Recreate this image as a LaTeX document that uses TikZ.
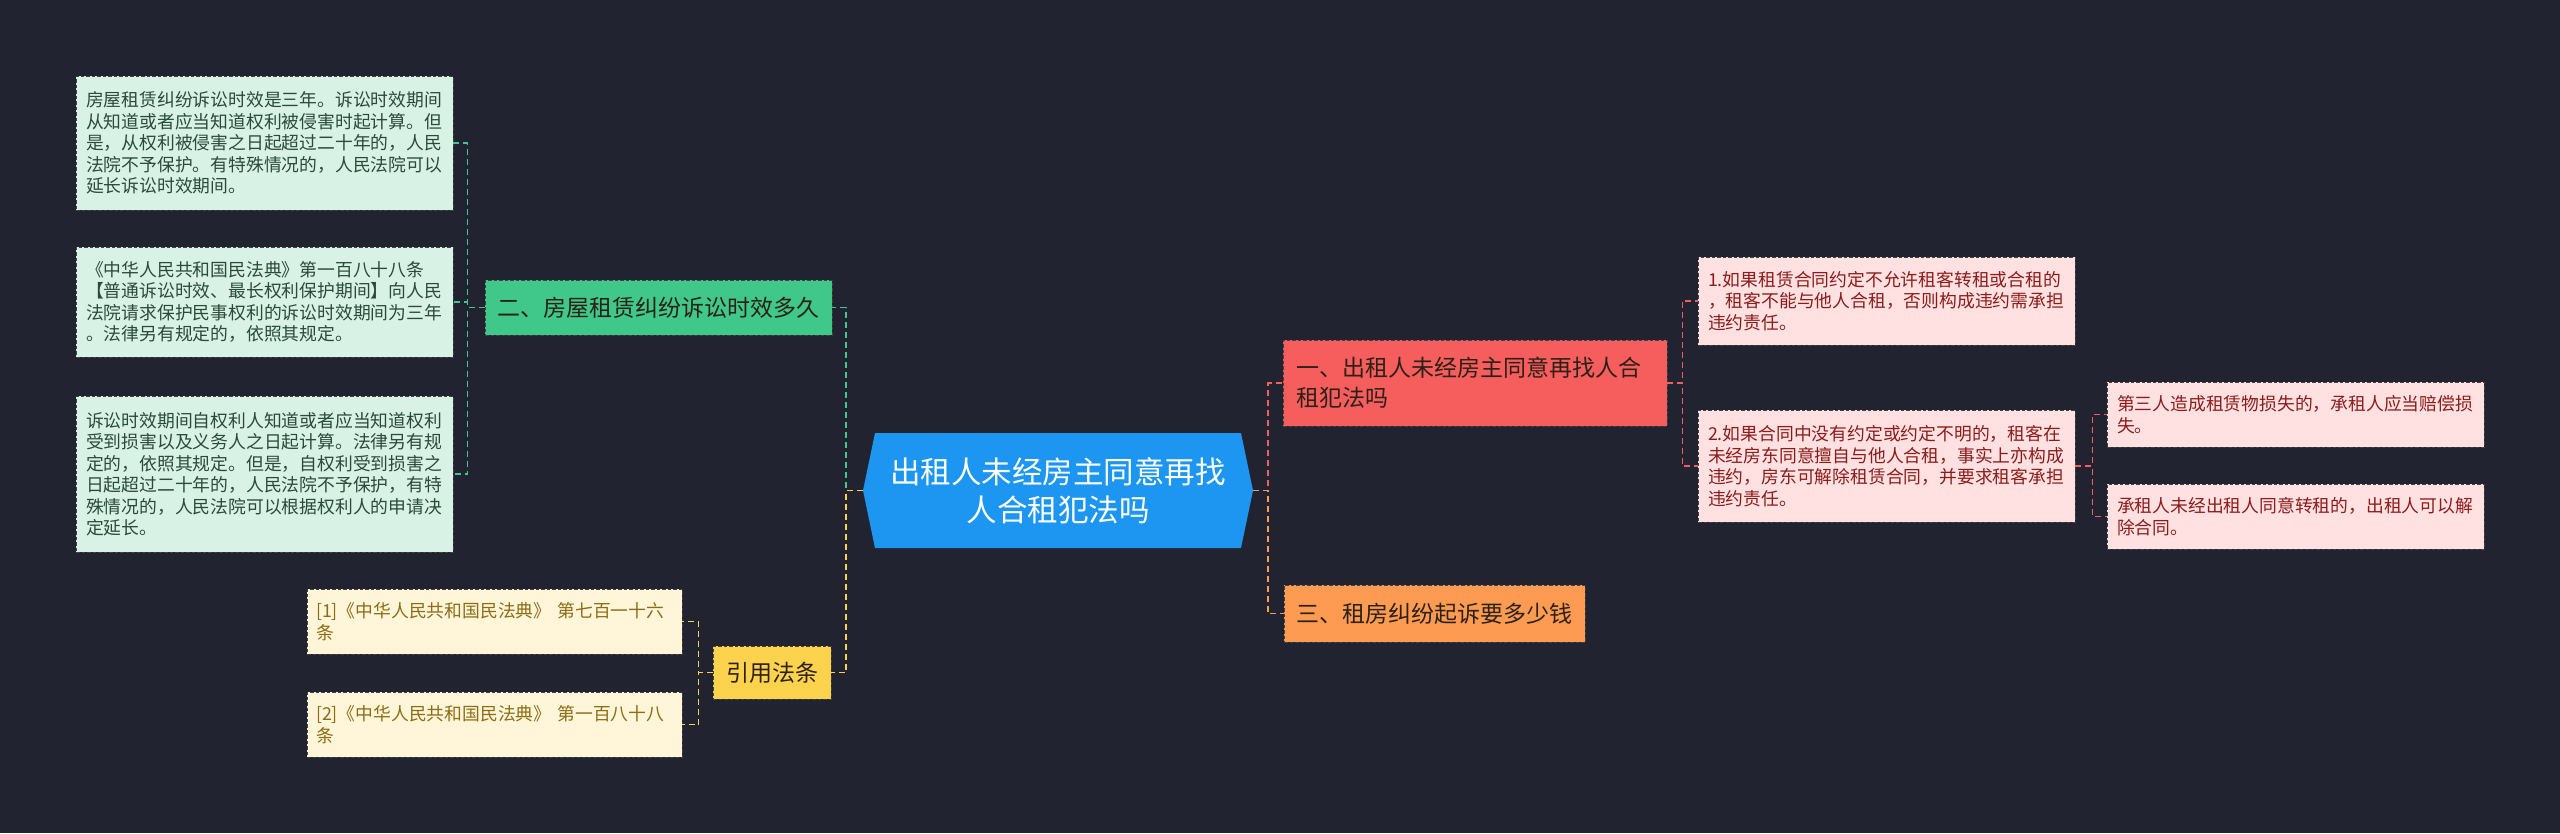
\documentclass[tikz,border=0pt]{standalone}
\usepackage{fontspec}
\newfontfamily\cjk{Noto Sans CJK SC}
\definecolor{bg}{HTML}{212430}
\definecolor{rootblue}{HTML}{1C96F0}
\definecolor{gmain}{HTML}{40C88A}
\definecolor{gleaf}{HTML}{D8F3E6}
\definecolor{gtext}{HTML}{2A4A3A}
\definecolor{ymain}{HTML}{FDD24C}
\definecolor{yleaf}{HTML}{FFF6D9}
\definecolor{ytext}{HTML}{8C6C14}
\definecolor{rmain}{HTML}{F65D5D}
\definecolor{rleaf}{HTML}{FFE1E1}
\definecolor{rtext}{HTML}{8C1C1C}
\definecolor{omain}{HTML}{FE9B52}
\definecolor{darktext}{HTML}{2B2118}
\tikzset{
  box/.style={draw=black!75, line width=0.9pt, dash pattern=on 3.5pt off 2pt, inner ysep=0pt, anchor=center},
  leafbox/.style={box, text width=357pt, inner xsep=10pt, minimum width=377pt, align=left,
    font=\cjk\fontsize{17.8}{21.5}\selectfont},
  gleafbox/.style={leafbox, fill=gleaf, text=gtext},
  yleafbox/.style={leafbox, fill=yleaf, text=ytext, text width=357pt, inner xsep=9pt, minimum width=375pt},
  rleafbox/.style={leafbox, fill=rleaf, text=rtext},
  midbox/.style={box, inner xsep=12pt, font=\cjk\fontsize{23}{30}\selectfont},
  conn/.style={line width=1.8pt, dash pattern=on 6pt off 4pt},
  rootbox/.style={minimum width=390pt, minimum height=115pt, inner sep=0pt, align=center,
    text=white, fill=bg, font=\cjk\fontsize{30.5}{38}\selectfont,
    path picture={\fill[rootblue]
      ([xshift=12pt]path picture bounding box.north west) --
      ([xshift=-12pt]path picture bounding box.north east) --
      (path picture bounding box.east) --
      ([xshift=-12pt]path picture bounding box.south east) --
      ([xshift=12pt]path picture bounding box.south west) --
      (path picture bounding box.west) -- cycle;}}
}
\begin{document}
\begin{tikzpicture}[x=1pt,y=-1pt]
\fill[bg] (0,0) rectangle (2560,833);
\useasboundingbox (0,0) rectangle (2560,833);

% root
\node[rootbox] (root) at (1058,490.5) {出租人未经房主同意再找\\人合租犯法吗};

% left: green branch
\node[midbox, fill=gmain, text=darktext, minimum width=347pt, minimum height=55pt] (g) at (658.5,307.5) {二、房屋租赁纠纷诉讼时效多久};
\node[gleafbox, minimum height=134pt] (g1) at (264.5,143) {房屋租赁纠纷诉讼时效是三年。诉讼时效期间\\从知道或者应当知道权利被侵害时起计算。但\\是，从权利被侵害之日起超过二十年的，人民\\法院不予保护。有特殊情况的，人民法院可以\\延长诉讼时效期间。};
\node[gleafbox, minimum height=110pt] (g2) at (264.5,302) {《中华人民共和国民法典》第一百八十八条\\【普通诉讼时效、最长权利保护期间】向人民\\法院请求保护民事权利的诉讼时效期间为三年\\。法律另有规定的，依照其规定。};
\node[gleafbox, minimum height=156pt] (g3) at (264.5,474) {诉讼时效期间自权利人知道或者应当知道权利\\受到损害以及义务人之日起计算。法律另有规\\定的，依照其规定。但是，自权利受到损害之\\日起超过二十年的，人民法院不予保护，有特\\殊情况的，人民法院可以根据权利人的申请决\\定延长。};

% left: yellow branch
\node[midbox, fill=ymain, text=darktext, minimum width=118pt, minimum height=53pt] (y) at (772,672.5) {引用法条};
\node[yleafbox, minimum height=65pt] (y1) at (494.5,621.5) {[1]《中华人民共和国民法典》~第七百一十六\\条};
\node[yleafbox, minimum height=65pt] (y2) at (494.5,724.5) {[2]《中华人民共和国民法典》~第一百八十八\\条};

% right: red branch
\node[midbox, fill=rmain, text=darktext, text width=358pt, inner xsep=13pt, minimum width=384pt, minimum height=86pt, align=left] (r) at (1475,383) {一、出租人未经房主同意再找人合\\租犯法吗};
\node[rleafbox, minimum height=88pt] (r1) at (1886.5,301) {1.如果租赁合同约定不允许租客转租或合租的\\，租客不能与他人合租，否则构成违约需承担\\违约责任。};
\node[rleafbox, minimum height=112pt] (r2) at (1886.5,466) {2.如果合同中没有约定或约定不明的，租客在\\未经房东同意擅自与他人合租，事实上亦构成\\违约，房东可解除租赁合同，并要求租客承担\\违约责任。};
\node[rleafbox, minimum height=65pt] (r2a) at (2295.5,414.5) {第三人造成租赁物损失的，承租人应当赔偿损\\失。};
\node[rleafbox, minimum height=65pt] (r2b) at (2295.5,516.5) {承租人未经出租人同意转租的，出租人可以解\\除合同。};

% right: orange branch
\node[midbox, fill=omain, text=darktext, minimum width=301pt, minimum height=57pt] (o) at (1434.5,613.5) {三、租房纠纷起诉要多少钱};

% connectors
\draw[conn, gmain] (root.west) -- ++(-17,0) |- (g.east);
\draw[conn, ymain] (root.west) -- ++(-17,0) |- (y.east);
\draw[conn, gmain] (g.west) -- ++(-17,0) |- (g1.east);
\draw[conn, gmain] (g.west) -- ++(-17,0) |- (g2.east);
\draw[conn, gmain] (g.west) -- ++(-17,0) |- (g3.east);
\draw[conn, ymain] (y.west) -- ++(-14,0) |- (y1.east);
\draw[conn, ymain] (y.west) -- ++(-14,0) |- (y2.east);
\draw[conn, rmain] (root.east) -- ++(15,0) |- (r.west);
\draw[conn, omain] (root.east) -- ++(15,0) |- (o.west);
\draw[conn, rmain] (r.east) -- ++(15,0) |- (r1.west);
\draw[conn, rmain] (r.east) -- ++(15,0) |- (r2.west);
\draw[conn, rmain] (r2.east) -- ++(17,0) |- (r2a.west);
\draw[conn, rmain] (r2.east) -- ++(17,0) |- (r2b.west);
\end{tikzpicture}
\end{document}
